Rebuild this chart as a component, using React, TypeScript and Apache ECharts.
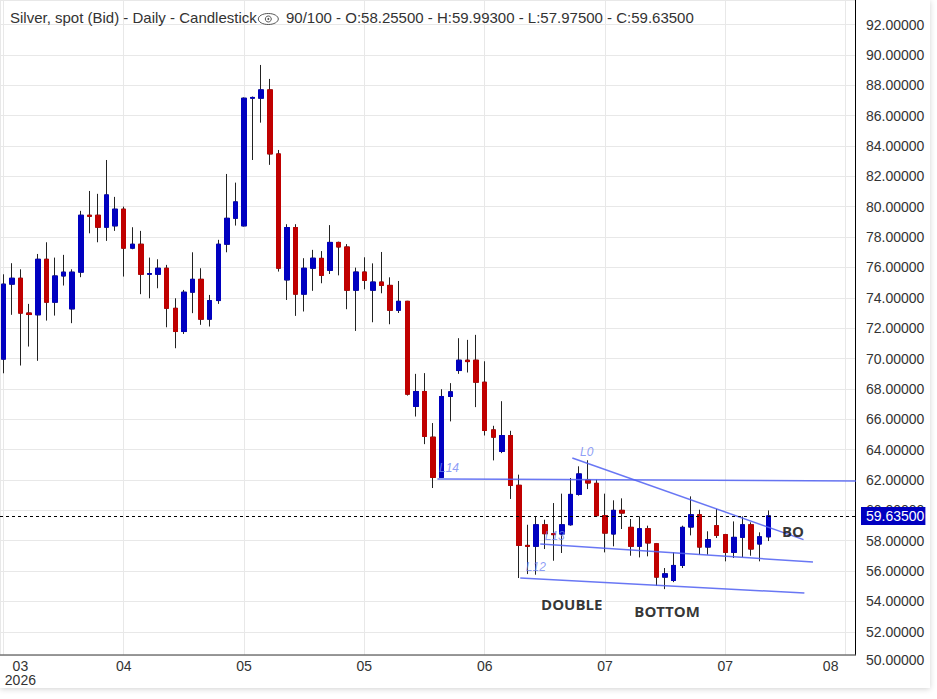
import React, { useEffect, useRef } from 'react';
import * as echarts from 'echarts';

// ---- data ----
const openP = [
  69.96, 74.9, 75.29, 73.0, 72.88, 76.54, 73.71, 75.44, 73.27, 75.69,
  79.44, 79.44, 78.65, 78.74, 79.84, 77.27, 77.53, 75.55, 75.55, 75.95,
  73.31, 71.78, 74.37, 75.22, 72.59, 73.82, 77.53, 79.24, 78.74, 87.15,
  87.15, 87.7, 83.48, 75.18, 78.63, 74.24, 75.95, 76.6, 75.81, 77.65,
  77.35, 74.5, 75.7, 74.5, 75.04, 74.82, 73.18, 73.77, 66.84, 67.83,
  64.82, 62.17, 67.5, 69.21, 69.89, 69.89, 68.44, 65.3, 63.88, 64.93,
  61.65, 57.69, 57.63, 59.05, 58.46, 58.44, 59.05, 61.05, 62.0, 61.78,
  59.65, 58.44, 60.0, 58.88, 57.63, 58.79, 57.8, 55.6, 55.38, 56.37,
  58.9, 59.71, 57.58, 58.99, 58.4, 57.23, 58.22, 59.05, 57.78, 58.255,
];
const closeP = [
  74.9, 75.29, 72.99, 72.9, 76.54, 73.71, 75.44, 75.69, 75.69, 79.44,
  79.37, 78.65, 80.78, 79.84, 77.27, 77.53, 75.55, 75.6, 75.95, 73.31,
  71.78, 74.37, 75.22, 72.59, 73.82, 77.53, 79.24, 80.32, 87.15, 87.2,
  87.7, 83.48, 75.95, 78.63, 74.24, 75.95, 76.61, 75.48, 77.65, 77.35,
  74.5, 75.7, 75.15, 75.04, 74.82, 73.18, 73.77, 67.65, 67.83, 64.87,
  62.17, 67.5, 67.81, 69.89, 69.8, 68.44, 65.26, 64.82, 64.93, 61.64,
  57.69, 57.63, 59.05, 58.46, 58.4, 59.05, 61.05, 62.4, 61.8, 59.65,
  58.5, 60.0, 59.82, 57.63, 58.79, 57.85, 55.6, 55.82, 56.37, 58.88,
  59.71, 57.58, 58.07, 58.35, 57.23, 58.22, 59.05, 57.45, 58.26, 59.635,
];
const lowP = [
  69.03, 72.88, 69.54, 70.79, 69.85, 72.5, 72.83, 74.81, 72.33, 75.36,
  78.25, 77.66, 77.75, 78.41, 75.4, 77.2, 74.24, 73.97, 74.63, 72.06,
  70.68, 71.62, 72.99, 72.22, 72.11, 73.6, 77.0, 78.76, 78.7, 83.08,
  85.54, 82.76, 75.73, 73.86, 72.81, 73.1, 74.46, 74.96, 75.57, 75.48,
  73.25, 71.82, 74.56, 72.39, 74.3, 72.26, 73.0, 67.56, 66.18, 64.36,
  61.47, 62.13, 65.86, 68.99, 69.08, 66.8, 64.93, 63.29, 63.77, 60.75,
  55.54, 55.8, 55.76, 57.45, 56.68, 57.19, 58.99, 60.97, 61.4, 59.56,
  57.23, 57.63, 58.77, 57.01, 56.9, 56.97, 55.03, 54.81, 55.27, 56.2,
  58.35, 57.08, 57.08, 58.18, 56.64, 56.86, 56.92, 57.01, 56.64, 57.975,
];
const highP = [
  75.55, 76.28, 75.88, 73.6, 76.89, 77.66, 76.65, 76.83, 75.88, 79.73,
  81.04, 80.85, 83.08, 80.65, 80.01, 78.65, 78.41, 76.65, 76.54, 76.17,
  73.97, 74.52, 77.0, 75.95, 74.19, 77.82, 82.16, 81.59, 87.2, 87.26,
  89.34, 88.42, 83.74, 78.85, 78.85, 76.61, 77.16, 77.08, 78.79, 77.7,
  77.54, 75.99, 76.67, 76.27, 77.02, 75.35, 75.11, 73.8, 68.99, 69.04,
  65.75, 67.98, 68.38, 71.34, 71.23, 71.56, 69.82, 65.57, 67.19, 65.24,
  62.35, 59.05, 59.6, 59.38, 60.48, 61.1, 62.13, 62.9, 63.3, 62.02,
  61.1, 60.66, 60.79, 59.43, 59.6, 58.99, 57.85, 56.2, 57.23, 58.99,
  60.92, 60.04, 58.62, 60.09, 58.45, 59.27, 59.6, 59.21, 58.55, 59.993,
];
const xTickLabels = ['03', '04', '05', '05', '06', '07', '07', '08'];
const yearLabel = '2026';
const lastPrice = 59.635;
const titleMain = 'Silver, spot (Bid) - Daily - Candlestick';
const visibleCount = '90/100';

// trend lines: [barIndex, price] endpoints
const trendLines = [
  { name: 'L14', from: [50.5, 62.07], to: [99.2, 61.93] },
  { name: 'L0', from: [66.2, 63.45], to: [93.1, 58.07] },
  { name: 'L13', from: [62.47, 57.78], to: [94.2, 56.59] },
  { name: 'L12', from: [60.14, 55.54], to: [93.2, 54.55] },
];
const lineTags = [
  { text: 'L14', at: [51.85, 62.81] },
  { text: 'L0', at: [67.87, 63.87] },
  { text: 'L13', at: [64.15, 58.33] },
  { text: 'L12', at: [61.95, 56.26] },
];
const notes = [
  { text: 'DOUBLE', at: [66.13, 53.83] },
  { text: 'BOTTOM', at: [77.22, 53.37] },
  { text: 'BO', at: [91.88, 58.62] },
];

const FONT = '"Liberation Sans", Arial, Helvetica, sans-serif';
const X_MIN = -0.396;
const X_MAX = 99.09;
const Y_MIN = 50.47;
const Y_MAX = 93.62;
const X_STEP = 14;

export default function App() {
  const ref = useRef<HTMLDivElement>(null);

  useEffect(() => {
    if (!ref.current) return;
    const chart = echarts.init(ref.current, undefined, { renderer: 'svg' });
    const n = openP.length;
    const idx = Array.from({ length: n }, (_, i) => i);
    const wickData = idx.map((i) => [i, openP[i], closeP[i], lowP[i], highP[i]]);
    const bodyData = idx.map((i) => [
      i,
      openP[i],
      closeP[i],
      Math.min(openP[i], closeP[i]),
      Math.max(openP[i], closeP[i]),
    ]);
    const last = n - 1;
    const titleInfo =
      `${visibleCount} - O:${openP[last].toFixed(5)} - H:${highP[last].toFixed(5)}` +
      ` - L:${lowP[last].toFixed(5)} - C:${closeP[last].toFixed(5)}`;

    const option: any = {
      animation: false,
      grid: { left: 0, top: 0, right: 75, bottom: 33, containLabel: false, outerBoundsMode: 'none' },
      xAxis: {
        type: 'value',
        min: X_MIN,
        max: X_MAX,
        splitNumber: 7,
        minInterval: X_STEP,
        maxInterval: X_STEP,
        axisLine: { show: true, onZero: false, lineStyle: { color: '#777', width: 1.5 } },
        axisTick: { show: false },
        splitLine: { show: true, lineStyle: { color: '#e8e8e8', width: 1 } },
        axisLabel: {
          showMinLabel: false,
          showMaxLabel: false,
          margin: 4,
          fontSize: 14,
          lineHeight: 14,
          color: '#333',
          fontFamily: FONT,
          formatter: (v: number) => {
            const k = Math.round(v / X_STEP);
            if (Math.abs(v - k * X_STEP) > 1e-6 || k < 0 || k >= xTickLabels.length) return '';
            if (k === 0) return `{first|${xTickLabels[0]}}\n{first|${yearLabel}}`;
            if (k === xTickLabels.length - 1) return `{last|${xTickLabels[k]}}`;
            return xTickLabels[k];
          },
          rich: {
            first: { padding: [0, 0, 0, 34], fontSize: 14, lineHeight: 14, color: '#333', fontFamily: FONT },
            last: { padding: [0, 30, 0, 0], fontSize: 14, lineHeight: 14, color: '#333', fontFamily: FONT },
          },
        },
      },
      yAxis: {
        type: 'value',
        position: 'right',
        min: Y_MIN,
        max: Y_MAX,
        splitNumber: 20,
        minInterval: 2,
        maxInterval: 2,
        axisLine: { show: true, onZero: false, lineStyle: { color: '#000', width: 1 } },
        axisTick: { show: false },
        splitLine: { show: true, lineStyle: { color: '#e8e8e8', width: 1 } },
        axisLabel: {
          showMinLabel: false,
          showMaxLabel: false,
          margin: 11,
          fontSize: 14,
          color: '#333',
          fontFamily: FONT,
          formatter: (v: number) => v.toFixed(5),
        },
      },
      series: [
        {
          name: 'wick',
          type: 'candlestick',
          data: wickData,
          barWidth: 5,
          silent: true,
          itemStyle: {
            color: 'rgba(0,0,0,0)',
            color0: 'rgba(0,0,0,0)',
            borderColor: '#222',
            borderColor0: '#222',
            borderWidth: 1,
          },
          z: 2,
        },
        {
          name: 'body',
          type: 'candlestick',
          data: bodyData,
          barWidth: 5,
          silent: true,
          itemStyle: {
            color: '#0000c0',
            color0: '#c00000',
            borderColor: '#0000c0',
            borderColor0: '#c00000',
            borderWidth: 1,
          },
          z: 3,
          markLine: {
            silent: true,
            symbol: ['none', 'none'],
            lineStyle: { color: '#000', type: [3, 3], width: 1 },
            label: {
              position: 'end',
              distance: 6,
              formatter: lastPrice.toFixed(5),
              color: '#fff',
              backgroundColor: '#0000c0',
              padding: [2, 1, 2, 5],
              fontSize: 14,
              fontFamily: FONT,
            },
            data: [{ yAxis: lastPrice }],
          },
        },
        ...trendLines.map((t) => ({
          name: t.name,
          type: 'line',
          data: [t.from, t.to],
          symbol: 'none',
          silent: true,
          z: 4,
          lineStyle: { color: '#4f5ff2', width: 1.5, opacity: 0.85 },
        })),
        {
          name: 'tags',
          type: 'scatter',
          silent: true,
          symbolSize: 1,
          itemStyle: { color: 'rgba(0,0,0,0)' },
          z: 5,
          data: lineTags.map((d) => ({ value: d.at, name: d.text })),
          label: {
            show: true,
            position: 'inside',
            formatter: '{b}',
            color: '#6f84f4',
            fontSize: 12,
            fontStyle: 'italic',
            fontFamily: FONT,
          },
        },
        {
          name: 'notes',
          type: 'scatter',
          silent: true,
          symbolSize: 1,
          itemStyle: { color: 'rgba(0,0,0,0)' },
          z: 5,
          data: notes.map((d) => ({ value: d.at, name: d.text })),
          label: {
            show: true,
            position: 'inside',
            formatter: '{b}',
            color: '#000',
            fontSize: 15,
            fontWeight: 'bold',
            fontFamily: '"Open Sans", "Liberation Sans", Arial, sans-serif',
          },
        },
      ],
      graphic: [
        {
          type: 'text',
          left: 10,
          top: 10,
          style: { text: titleMain, fontSize: 15, fill: '#333', fontFamily: FONT },
          z: 10,
        },
        {
          type: 'ellipse',
          shape: { cx: 268.3, cy: 19, rx: 10, ry: 5.5 },
          style: { fill: 'none', stroke: '#555', lineWidth: 1 },
          z: 10,
        },
        {
          type: 'circle',
          shape: { cx: 268.3, cy: 19, r: 3 },
          style: { fill: 'none', stroke: '#555', lineWidth: 1 },
          z: 10,
        },
        {
          type: 'circle',
          shape: { cx: 268.3, cy: 19, r: 1 },
          style: { fill: '#555' },
          z: 10,
        },
        {
          type: 'text',
          left: 286,
          top: 10,
          style: { text: titleInfo, fontSize: 15, fill: '#333', fontFamily: FONT },
          z: 10,
        },
        {
          type: 'text',
          left: 866,
          top: 653,
          style: { text: (50).toFixed(5), fontSize: 14, fill: '#333', fontFamily: FONT },
          z: 10,
        },
      ],
    };
    chart.setOption(option);
    return () => chart.dispose();
  }, []);

  return (
    <div style={{ position: 'absolute', left: 0, top: 0, width: 937, height: 699, background: '#fff', overflow: 'hidden' }}>
      <div
        style={{
          position: 'absolute',
          left: 0,
          top: 0,
          width: 930,
          height: 688,
          background: '#fff',
          boxShadow: '0 1px 6px rgba(0,0,0,0.18)',
        }}
      >
        <div ref={ref} style={{ width: 930, height: 688 }} />
      </div>
    </div>
  );
}
